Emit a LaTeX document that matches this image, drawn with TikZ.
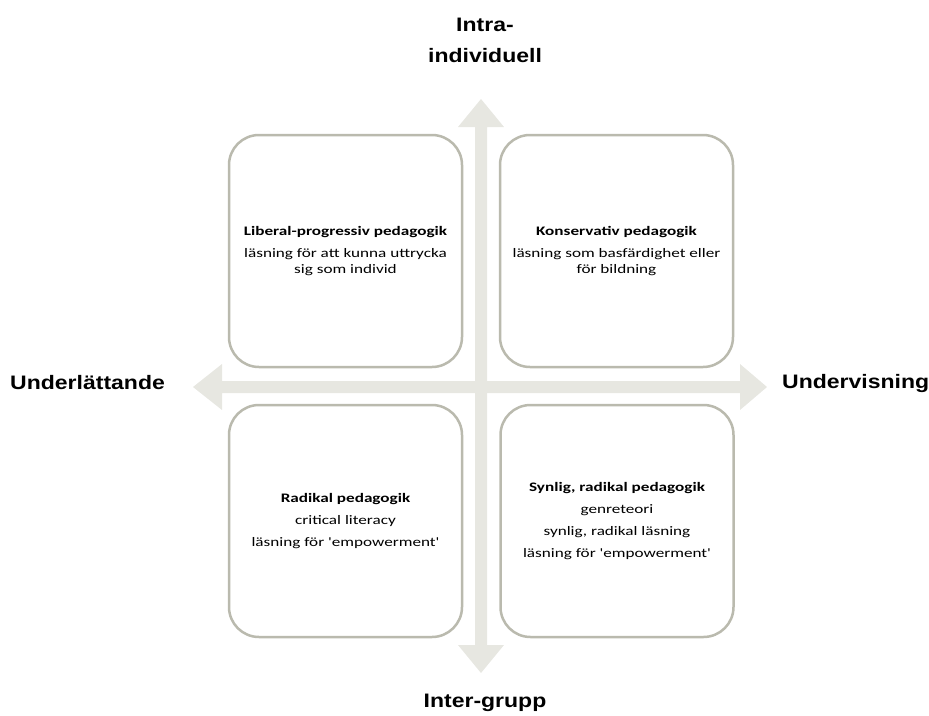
\documentclass[tikz,border=0pt]{standalone}
\usepackage{fontspec}
\newfontfamily\boxfont[FakeStretch=1.32]{Carlito}
\newfontfamily\axisfont[FakeStretch=1.18]{Liberation Sans}
\definecolor{axisgray}{RGB}{231,231,225}
\definecolor{boxline}{RGB}{186,186,174}

\begin{document}
\begin{tikzpicture}[x=1pt,y=-1pt,
  quad/.style={draw=boxline,line width=2.5pt,fill=white,rounded corners=30pt,
    minimum width=233pt,minimum height=232pt,align=center,
    font=\boxfont\fontsize{13}{15.5}\selectfont},
  axislabel/.style={font=\axisfont\bfseries\fontsize{19.5}{31}\selectfont,align=center}]
  \useasboundingbox (0,0) rectangle (929,715);
  % axes
  \fill[axisgray] (475,127) -- (458,127) -- (481,99) -- (504,127) -- (487,127)
    -- (487,645) -- (504,645) -- (481,673) -- (458,645) -- (475,645) -- cycle;
  \fill[axisgray] (222,381) -- (740,381) -- (740,364) -- (767,387) -- (740,410)
    -- (740,393) -- (222,393) -- (222,410) -- (193,387) -- (222,364) -- cycle;
  % quadrants
  \node[quad] (liberal) at (345.5,251) {\textbf{Liberal-progressiv pedagogik}\\[6.5pt]
    läsning för att kunna uttrycka\\sig som individ};
  \node[quad] (konservativ) at (616.5,251) {\textbf{Konservativ pedagogik}\\[6.5pt]
    läsning som basfärdighet eller\\för bildning};
  \node[quad] (radikal) at (345.5,521) {\textbf{Radikal pedagogik}\\[6.5pt]
    critical literacy\\[6.5pt]läsning för 'empowerment'};
  \node[quad] (synlig) at (617,521) {\textbf{Synlig, radikal pedagogik}\\[6.5pt]
    genreteori\\[6.5pt]synlig, radikal läsning\\[6.5pt]läsning för 'empowerment'};
  % axis labels
  \node[axislabel] (intra) at (485,40) {Intra-\\individuell};
  \node[axislabel,anchor=base] (inter) at (485,707) {Inter-grupp};
  \node[axislabel,anchor=base west,inner sep=0pt] (under) at (10,389) {Underlättande};
  \node[axislabel,anchor=base west,inner sep=0pt] (undervis) at (782,388) {Undervisning};
\end{tikzpicture}
\end{document}
